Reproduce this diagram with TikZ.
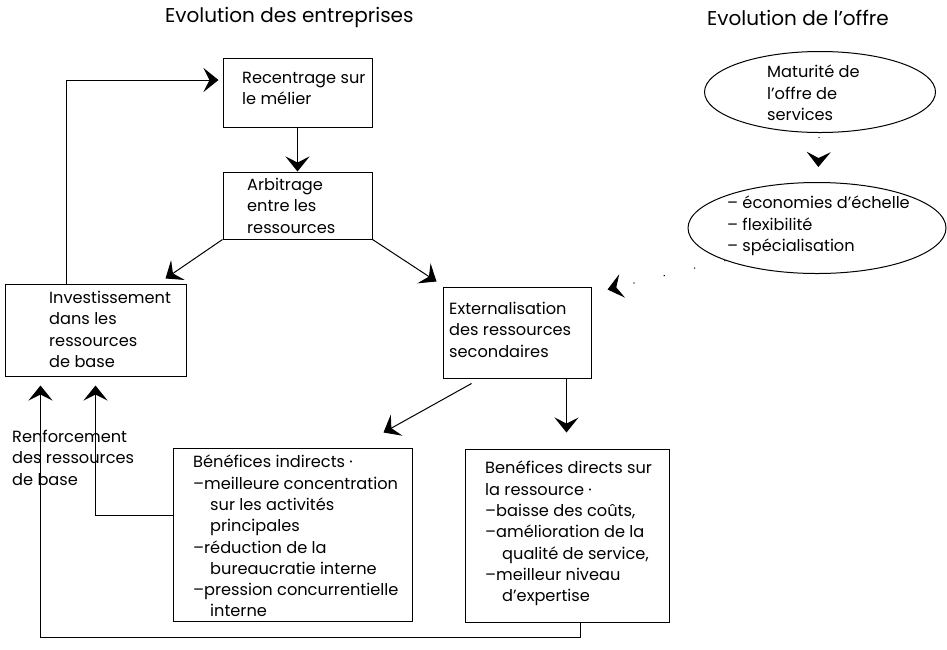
\documentclass[tikz,border=0pt]{standalone}
\usepackage{fontspec}
\setmainfont{Poppins}
\usetikzlibrary{calc,positioning,arrows.meta,shapes.geometric}

\newcommand{\ind}{\hspace*{17pt}}

\begin{document}
\begin{tikzpicture}[x=1pt,y=-1pt,
    box/.style={draw,rectangle,inner sep=0pt,line width=1pt},
    oval/.style={draw,ellipse,inner sep=0pt,line width=1pt},
    txt/.style={anchor=north west,align=left,inner sep=0pt,font=\fontsize{16.2}{21.3}\selectfont},
    head/.style={anchor=base west,inner sep=0pt,font=\fontsize{20}{24}\selectfont},
    arr/.style={-{Stealth[length=15pt,width=24pt,inset=6pt]},line width=1pt},
    faint/.style={dash pattern=on 1.2pt off 30pt}
    ]
  \useasboundingbox (0,0) rectangle (947,649);

  % titles
  \node(titleFirms) [head] at (165,22) {Evolution des entreprises};
  \node(titleOffer) [head] at (707,25) {Evolution de l'offre};

  % boxes
  \node(rec) [box,minimum width=149pt,minimum height=69pt] at (297.5,92.5) {};
  \node(recText) [txt] at (242,72) {Recentrage sur\\le mélier};

  \node(arb) [box,minimum width=149pt,minimum height=67pt] at (297.5,205.5) {};
  \node(arbText) [txt] at (247,178) {Arbitrage\\entre les\\ressources};

  \node(inv) [box,minimum width=181pt,minimum height=92pt] at (95.5,330) {};
  \node(invText) [txt] at (49,291) {Investissement\\dans les\\ressources\\de base};

  \node(ext) [box,minimum width=148pt,minimum height=91pt] at (517,332.5) {};
  \node(extText) [txt] at (449,302) {Externalisation\\des ressources\\secondaires};

  \node(bind) [box,minimum width=239pt,minimum height=173pt] at (292.5,534.5) {};
  \node(bindText) [txt] at (193,455) {Bénéfices indirects ·\\--meilleure concentration\\\ind sur les activités\\\ind principales\\--réduction de la\\\ind bureaucratie interne\\--pression concurrentielle\\\ind interne};

  \node(bdir) [box,minimum width=204pt,minimum height=173pt] at (567,535.5) {};
  \node(bdirText) [txt] at (485,461) {Benéfices directs sur\\la ressource ·\\--baisse des coûts,\\--amélioration de la\\\ind qualité de service,\\--meilleur niveau\\\ind d'expertise};

  \node(renf) [txt] at (12,430) {Renforcement\\des ressources\\de base};

  % offer side
  \node(e1) [oval,minimum width=231pt,minimum height=81pt] at (820,92) {};
  \node(e1Text) [txt] at (767,65) {Maturité de\\l'offre de\\services};

  \node(e2) [oval,minimum width=258pt,minimum height=91pt] at (817,228) {};
  \node(e2Text) [txt] at (727,196) {-- économies d'échelle\\-- flexibilité\\-- spécialisation};

  % connectors
  \draw[arr] (rec) -- (arb);
  \draw[arr] (arb.south west) -- ([xshift=-21pt,yshift=5pt]inv.north east);
  \draw[arr] (arb.south east) -- ([xshift=-6pt,yshift=5pt]ext.north west);
  \draw[arr] ([xshift=29pt,yshift=-5pt]ext.south west) -- ([xshift=-29pt,yshift=15pt]bind.north east);
  \draw[arr,shorten >=16pt] ([xshift=-25pt]ext.south east) -- ([xshift=-25pt]ext.south east |- bdir.north);
  \draw[arr,shorten >=9pt] ([xshift=13pt]bdir.south) -- ++(0,15) -| ([xshift=36pt]inv.south west);
  \draw[arr,shorten >=9pt] ([yshift=19.5pt]bind.west) -| ([xshift=91pt]inv.south west);
  \draw[arr] ([xshift=62pt]inv.north west) |- ([yshift=12.5pt,xshift=-4pt]rec.west);

  \draw[arr,faint,shorten <=4pt,shorten >=15pt] (e1) -- (e2);
  \draw[arr,faint] (e2.south west) -- ([xshift=16pt,yshift=-3pt]ext.north east);

\end{tikzpicture}
\end{document}
